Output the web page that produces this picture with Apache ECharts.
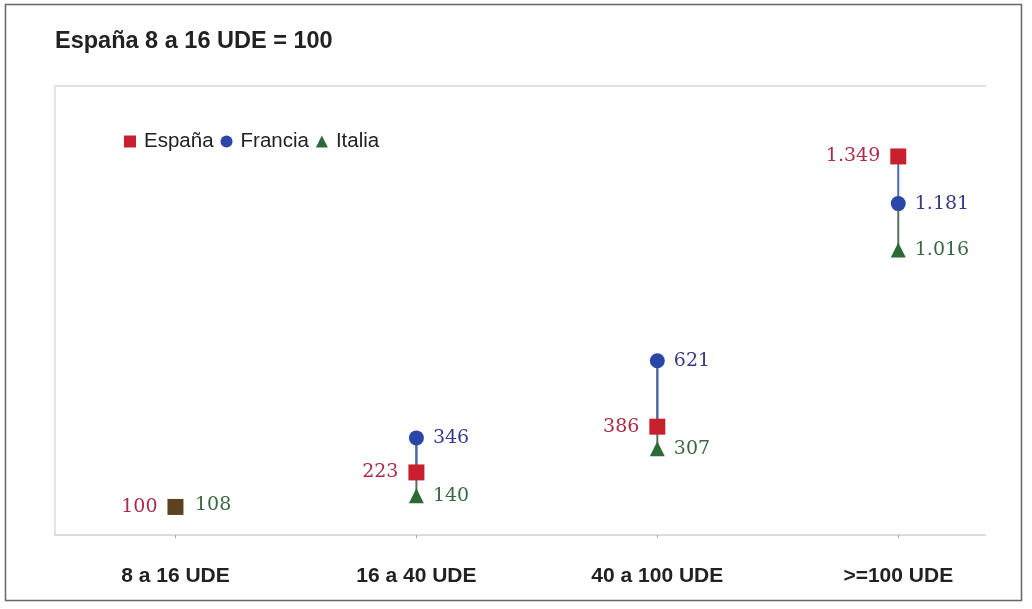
<!DOCTYPE html>
<html>
<head>
<meta charset="utf-8">
<script src="https://cdn.jsdelivr.net/npm/echarts@6/dist/echarts.min.js"></script>
<style>
  html, body { margin: 0; padding: 0; background: #fff; }
  #chart { width: 1032px; height: 609px; }
</style>
</head>
<body>
<div id="chart"></div>
<script>
// Datos (España 8 a 16 UDE = 100)
const categories = ["8 a 16 UDE", "16 a 40 UDE", "40 a 100 UDE", ">=100 UDE"];
const espana = [100, 223, 386, 1349];
const francia = [100, 346, 621, 1181];
const italia = [108, 140, 307, 1016];

// separador de miles con punto
const fmt = v => String(v).replace(/\B(?=(\d{3})+(?!\d))/g, ".");

const chart = echarts.init(document.getElementById("chart"));

const labelFont = { fontFamily: "DejaVu Serif", fontSize: 19 };

const option = {
  animation: false,
  backgroundColor: "#fff",
  title: {
    text: "España 8 a 16 UDE = 100",
    left: 55,
    top: 30,
    padding: 0,
    textStyle: { fontFamily: "Liberation Sans", fontWeight: "bold", fontSize: 23.5, color: "#222" }
  },
  legend: {
    left: 119,
    top: 126,
    itemWidth: 12,
    itemHeight: 12,
    itemGap: 7,
    data: [
      { name: "España", icon: "rect" },
      { name: "Francia", icon: "circle" },
      { name: "Italia", icon: "triangle" }
    ],
    textStyle: { fontFamily: "Liberation Sans", fontSize: 20.5, color: "#222", padding: [0, 0, 0, 3] }
  },
  grid: { left: 55, right: 47, top: 86, bottom: 74 },
  xAxis: [
    {
      type: "value",
      min: -0.5,
      max: 3.36,
      splitLine: { show: false },
      axisLine: { show: true, lineStyle: { color: "#dcdcdc", width: 2 } },
      axisTick: { show: true, customValues: [0, 1, 2, 3], length: 3, lineStyle: { color: "#aaa" } },
      axisLabel: {
        customValues: [0, 1, 2, 3],
        formatter: v => categories[v],
        fontFamily: "Liberation Sans",
        fontWeight: "bold",
        fontSize: 21,
        color: "#222",
        margin: 31
      }
    },
    {
      type: "value",
      position: "top",
      min: -0.5,
      max: 3.36,
      splitLine: { show: false },
      axisLine: { show: true, lineStyle: { color: "#e0e0e0", width: 2 } },
      axisTick: { show: false },
      axisLabel: { show: false }
    }
  ],
  yAxis: {
    type: "value",
    min: 0,
    max: 1600,
    splitLine: { show: false },
    axisLine: { show: true, onZero: false, lineStyle: { color: "#e4e4e4", width: 2 } },
    axisTick: { show: false },
    axisLabel: { show: false }
  },
  graphic: [
    {
      type: "rect",
      shape: { x: 5.5, y: 4.5, width: 1016, height: 596 },
      style: { fill: "none", stroke: "#666", lineWidth: 1.5 },
      silent: true
    }
  ],
  series: [
    {
      // líneas verticales entre valores de cada categoría
      type: "custom",
      silent: true,
      z: 1,
      encode: { x: 0, y: 1 },
      data: categories.map((c, i) => [i, espana[i], francia[i], italia[i]]),
      renderItem: (params, api) => {
        const x = api.value(0);
        const pe = api.coord([x, api.value(1)]);
        const pf = api.coord([x, api.value(2)]);
        const pi = api.coord([x, api.value(3)]);
        return {
          type: "group",
          children: [
            { type: "line", shape: { x1: pf[0], y1: pf[1], x2: pi[0], y2: pi[1] }, style: { stroke: "#56705e", lineWidth: 2 } },
            { type: "line", shape: { x1: pf[0], y1: pf[1], x2: pe[0], y2: pe[1] }, style: { stroke: "#4a68b0", lineWidth: 2 } }
          ]
        };
      }
    },
    {
      name: "Francia",
      type: "scatter",
      symbol: "circle",
      symbolSize: 15,
      z: 3,
      itemStyle: { color: "#2a47a8", opacity: 1 },
      data: francia.map((v, i) => i === 0 ? { value: [i, v], label: { show: false } } : [i, v]),
      label: {
        show: true, position: "right", distance: 9, color: "#363a88", ...labelFont,
        formatter: p => fmt(p.value[1])
      }
    },
    {
      name: "Italia",
      type: "scatter",
      symbol: "triangle",
      symbolSize: 15,
      z: 3,
      itemStyle: { color: "#2c6a38", opacity: 1 },
      data: italia.map((v, i) => i === 0 ? { value: [i, v], symbolSize: 11, label: { distance: 14 } } : [i, v]),
      label: {
        show: true, position: "right", distance: 9, color: "#3a6842", ...labelFont,
        formatter: p => fmt(p.value[1])
      }
    },
    {
      name: "España",
      type: "scatter",
      symbol: "rect",
      symbolSize: 16,
      z: 5,
      itemStyle: { color: "#c8202e", opacity: 1 },
      data: espana.map((v, i) => i === 0 ? { value: [i, v], itemStyle: { color: "#5a4222" } } : [i, v]),
      label: {
        show: true, position: "left", distance: 10, color: "#ac2c48", ...labelFont,
        formatter: p => fmt(p.value[1])
      }
    }
  ]
};

chart.setOption(option);
</script>
</body>
</html>
